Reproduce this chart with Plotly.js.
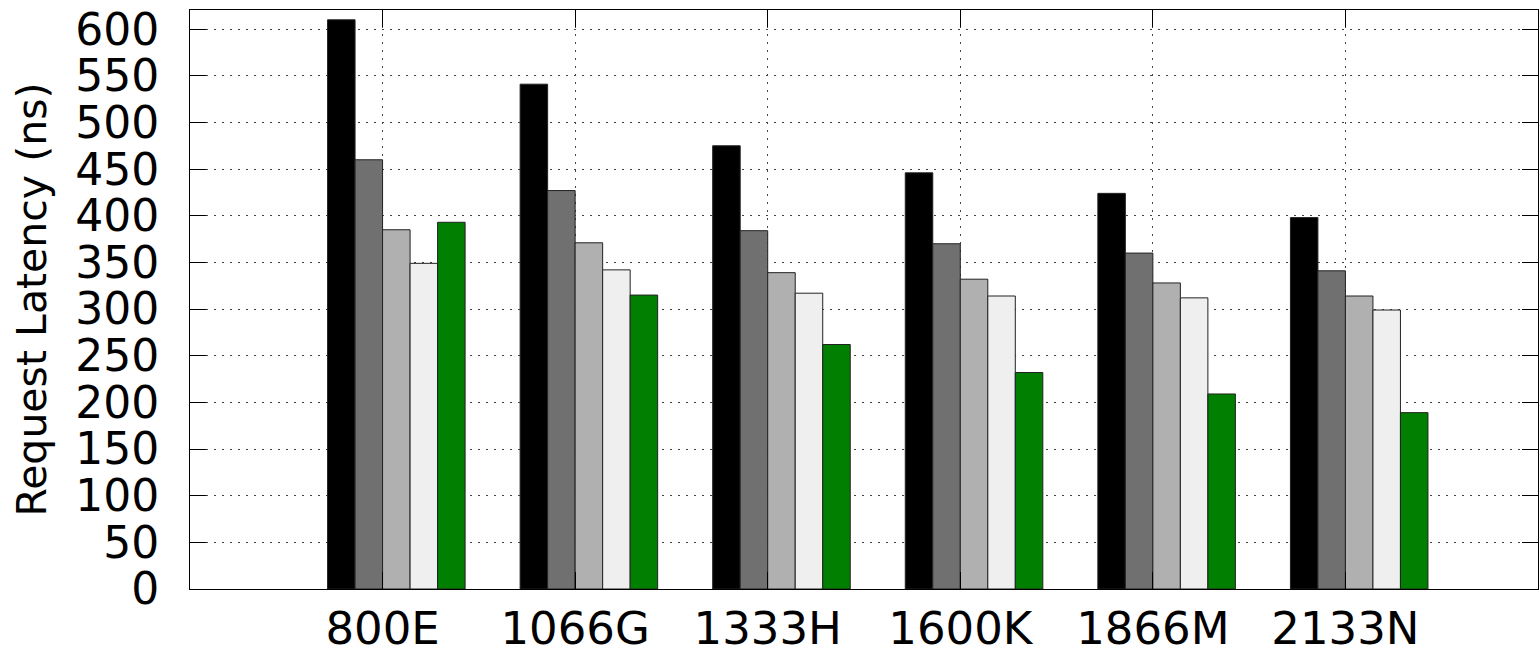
<!DOCTYPE html>
<html>
<head>
<meta charset="utf-8">
<script src="https://cdn.plot.ly/plotly-3.0.1.min.js"></script>
<style>html,body{margin:0;padding:0;background:#fff;}#chart{width:1539px;height:650px;}</style>
</head>
<body>
<div id="chart"></div>
<script>
const categories = ['800E', '1066G', '1333H', '1600K', '1866M', '2133N'];
const series1 = [610, 541, 475, 446, 424, 398];
const series2 = [460, 427, 384, 370, 360, 341];
const series3 = [385, 371, 339, 332, 328, 314];
const series4 = [349, 342, 317, 314, 312, 299];
const series5 = [393, 315, 262, 232, 209, 189];
const yTicks = [0, 50, 100, 150, 200, 250, 300, 350, 400, 450, 500, 550, 600];

const allSeries = [series1, series2, series3, series4, series5];
const colors = ['#000000', '#707070', '#b0b0b0', '#efefef', '#007f00'];
const xs = categories.map((c, i) => i);

const traces = allSeries.map((s, k) => ({
  type: 'bar',
  x: xs,
  y: s,
  width: 1 / 7,
  offset: (k - 2) / 7,
  marker: {color: colors[k], line: {color: '#222', width: 1}},
  showlegend: false,
  hoverinfo: 'skip'
}));

const layout = {
  width: 1539,
  height: 650,
  margin: {l: 190, r: 1, t: 10, b: 61},
  paper_bgcolor: '#fff',
  plot_bgcolor: '#fff',
  barmode: 'overlay',
  font: {family: 'DejaVu Sans', color: '#000'},
  xaxis: {
    range: [-1, 6],
    tickvals: xs,
    ticktext: categories,
    tickfont: {size: 45},
    ticks: 'inside',
    ticklen: 17,
    tickcolor: '#000',
    showline: true,
    linecolor: '#000',
    linewidth: 1,
    mirror: 'ticks',
    showgrid: true,
    gridcolor: '#444',
    griddash: '2px,6px',
    gridwidth: 1,
    zeroline: false,
    ticklabelstandoff: 0
  },
  yaxis: {
    range: [0, 620.5],
    tickvals: yTicks,
    tickfont: {size: 44},
    ticks: 'inside',
    ticklen: 16,
    tickcolor: '#000',
    showline: true,
    linecolor: '#000',
    linewidth: 1,
    mirror: 'ticks',
    showgrid: true,
    gridcolor: '#444',
    griddash: '2px,6px',
    gridwidth: 1,
    zeroline: false,
    ticklabelstandoff: 21,
    title: {text: 'Request Latency (ns)', font: {size: 41}, standoff: 15}
  }
};

Plotly.newPlot('chart', traces, layout, {staticPlot: true});
</script>
</body>
</html>
